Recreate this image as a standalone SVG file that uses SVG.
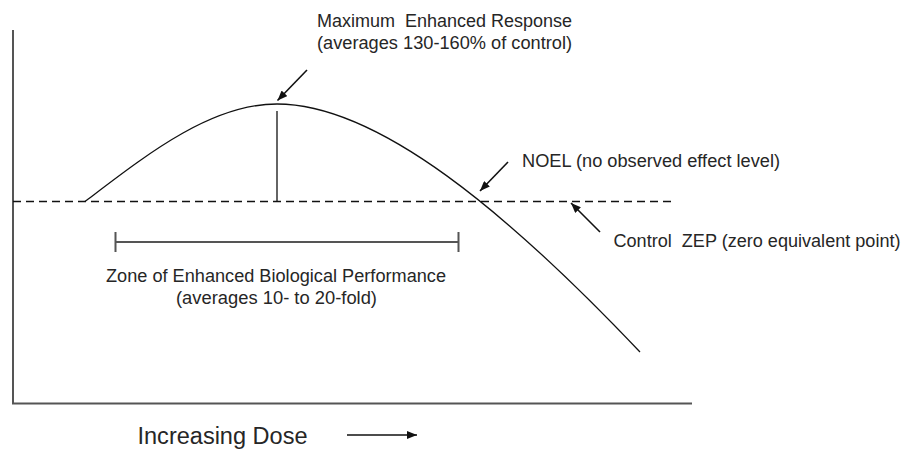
<svg xmlns="http://www.w3.org/2000/svg" width="903" height="451" viewBox="0 0 903 451">
  <style>
    .lbl { font-family: "Liberation Sans", Arial, sans-serif; font-size: 17.5px; fill: #262626; }
    .big { font-size: 23.5px; }
    .axis { stroke: #555555; stroke-width: 2; fill: none; }
    .curve { stroke: #111111; stroke-width: 1.3; fill: none; }
    .dash { stroke: #111111; stroke-width: 1.4; stroke-dasharray: 8 5; fill: none; }
    .bar { stroke: #555555; stroke-width: 2; fill: none; }
    .arr { stroke: #111111; stroke-width: 1.6; fill: none; marker-end: url(#ah); }
  </style>
  <defs>
    <marker id="ah" viewBox="0 0 10 8" refX="10" refY="4" markerWidth="10" markerHeight="8" markerUnits="userSpaceOnUse" orient="auto">
      <path d="M0,0 L10,4 L0,8 Z" fill="#111111"/>
    </marker>
  </defs>
  <rect width="903" height="451" fill="#ffffff"/>

  <g id="axes">
    <path class="axis" d="M13,30 L13,403.5 L692,403.5"/>
  </g>
  <g id="control-line">
    <line class="dash" x1="13" y1="201.5" x2="672" y2="201.5"/>
  </g>
  <g id="response-curve">
    <path class="curve" d="M85,201.5 C145,156 210,104 277,104 C378,104 508,213 640,352"/>
  </g>
  <g id="peak-line">
    <line class="curve" x1="277" y1="111" x2="277" y2="201.5"/>
  </g>
  <g id="zone-bar">
    <path class="bar" d="M115.5,242 L458.5,242 M115.5,232 L115.5,252 M458.5,232 L458.5,252"/>
  </g>

  <g id="label-max">
    <text class="lbl" x="317" y="26.5" textLength="255" lengthAdjust="spacingAndGlyphs" xml:space="preserve">Maximum  Enhanced Response</text>
    <text class="lbl" x="317" y="48.5" textLength="255" lengthAdjust="spacingAndGlyphs">(averages 130-160% of control)</text>
  </g>
  <g id="label-noel">
    <text class="lbl" x="522" y="166.5" textLength="258" lengthAdjust="spacingAndGlyphs">NOEL (no observed effect level)</text>
  </g>
  <g id="label-zep">
    <text class="lbl" x="613.5" y="246.5" textLength="287" lengthAdjust="spacingAndGlyphs" xml:space="preserve">Control  ZEP (zero equivalent point)</text>
  </g>
  <g id="label-zone">
    <text class="lbl" x="106" y="281.5" textLength="340" lengthAdjust="spacingAndGlyphs">Zone of Enhanced Biological Performance</text>
    <text class="lbl" x="176" y="303.5" textLength="201" lengthAdjust="spacingAndGlyphs">(averages 10- to 20-fold)</text>
  </g>
  <g id="label-dose">
    <text class="lbl big" x="137.5" y="444" textLength="170" lengthAdjust="spacingAndGlyphs">Increasing Dose</text>
  </g>

  <g id="connectors">
    <line class="arr" x1="307" y1="70" x2="277.5" y2="100.5"/>
    <line class="arr" x1="508" y1="162" x2="480" y2="191"/>
    <line class="arr" x1="600" y1="232" x2="571" y2="203"/>
    <line class="arr" x1="347" y1="435" x2="417" y2="435"/>
  </g>
</svg>
